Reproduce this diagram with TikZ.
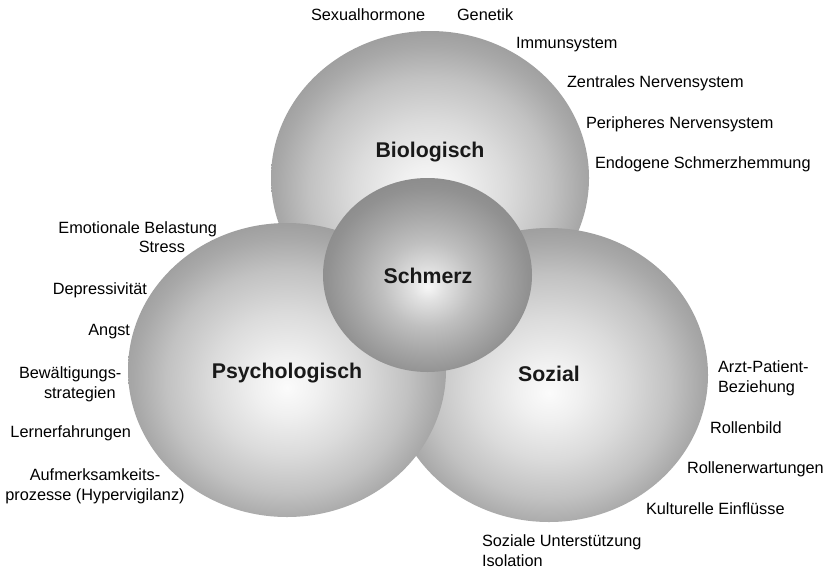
\documentclass[tikz,border=0pt]{standalone}
\usepackage{fontspec}
\setmainfont{Liberation Sans}
\usetikzlibrary{shapes.geometric}
\pgfdeclareradialshading{bigball}{\pgfpoint{0bp}{-3bp}}{%
  rgb(0bp)=(0.985,0.985,0.985);
  rgb(5bp)=(0.94,0.94,0.94);
  rgb(12bp)=(0.86,0.86,0.86);
  rgb(19bp)=(0.76,0.76,0.76);
  rgb(24bp)=(0.66,0.66,0.66);
  rgb(28bp)=(0.60,0.60,0.60);
  rgb(50bp)=(0.60,0.60,0.60)}
\pgfdeclareradialshading{smallball}{\pgfpoint{0bp}{-3bp}}{%
  rgb(0bp)=(0.97,0.97,0.97);
  rgb(4bp)=(0.88,0.88,0.88);
  rgb(11bp)=(0.75,0.75,0.75);
  rgb(18bp)=(0.65,0.65,0.65);
  rgb(24bp)=(0.57,0.57,0.57);
  rgb(28bp)=(0.54,0.54,0.54);
  rgb(50bp)=(0.54,0.54,0.54)}
\begin{document}
\begin{tikzpicture}[x=1pt,y=-1pt,
  lbl/.style={font=\fontsize{16.3}{19.5}\selectfont, inner sep=0pt, outer sep=0pt, text=black},
  head/.style={font=\fontsize{21.3}{25}\selectfont\bfseries, inner sep=0pt, outer sep=0pt, text=black!90, anchor=base},
  bigsphere/.style={ellipse, shading=bigball, inner sep=0pt, minimum width=318pt, minimum height=294pt},
  smallsphere/.style={ellipse, shading=smallball, inner sep=0pt, minimum width=209pt, minimum height=194pt}]
\useasboundingbox (0,0) rectangle (826,570);
\fill[white] (0,0) rectangle (826,570);
% spheres
\node[bigsphere] (bioC) at (430,178) {};
\node[bigsphere] (sozC) at (549,375) {};
\node[bigsphere] (psyC) at (287,370) {};
\node[smallsphere] (schC) at (427.5,275) {};
% headings
\node[head] (bio) at (430,157) {Biologisch};
\node[head] (psy) at (287,378) {Psychologisch};
\node[head] (soz) at (549,381) {Sozial};
\node[head] (sch) at (428,283) {Schmerz};
% biological factors
\node[lbl, anchor=north west] (b1) at (311,9) {Sexualhormone};
\node[lbl, anchor=north west] (b2) at (457,9) {Genetik};
\node[lbl, anchor=north west] (b3) at (516,37) {Immunsystem};
\node[lbl, anchor=north west] (b4) at (567,76) {Zentrales Nervensystem};
\node[lbl, anchor=north west] (b5) at (586,117) {Peripheres Nervensystem};
\node[lbl, anchor=north west] (b6) at (595,157) {Endogene Schmerzhemmung};
% psychological factors
\node[lbl, anchor=north east] (p1) at (217,222) {Emotionale Belastung};
\node[lbl, anchor=north east] (p2) at (185,241) {Stress};
\node[lbl, anchor=north east] (p3) at (147,283) {Depressivität};
\node[lbl, anchor=north east] (p4) at (130,324) {Angst};
\node[lbl, anchor=north west, align=left] (p5) at (19,367) {Bewältigungs-\\\hspace*{25pt}strategien};
\node[lbl, anchor=north east] (p6) at (131,426) {Lernerfahrungen};
\node[lbl, anchor=north, align=center] (p7) at (95,469) {Aufmerksamkeits-\\prozesse (Hypervigilanz)};
% social factors
\node[lbl, anchor=north west, align=left] (s1) at (718,361) {Arzt-Patient-\\Beziehung};
\node[lbl, anchor=north west] (s2) at (710,422) {Rollenbild};
\node[lbl, anchor=north west] (s3) at (687,462) {Rollenerwartungen};
\node[lbl, anchor=north west] (s4) at (646,503) {Kulturelle Einflüsse};
\node[lbl, anchor=north west, align=left] (s5) at (482,535) {Soziale Unterstützung\\Isolation};
\end{tikzpicture}
\end{document}
